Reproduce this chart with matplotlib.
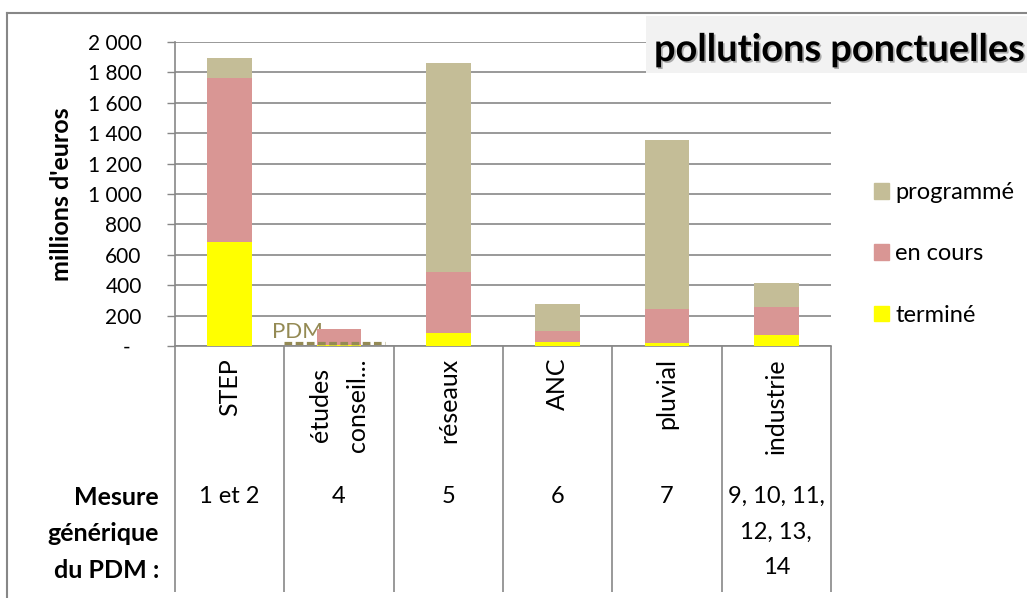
import matplotlib.pyplot as plt
import matplotlib.patheffects as pe
from matplotlib.patches import Rectangle, Patch
from matplotlib.ticker import FuncFormatter

plt.rcParams['font.family'] = ['Lato', 'DejaVu Sans']

categories = ['STEP', 'études\nconseil...', 'réseaux', 'ANC', 'pluvial', 'industrie']
mesures = ['1 et 2', '4', '5', '6', '7', '9, 10, 11,\n12, 13,\n14']
termine = [684, 8, 86, 26, 20, 72]
en_cours = [1079, 104, 401, 73, 223, 185]
programme = [132, 0, 1375, 177, 1112, 157]
pdm_value = 20

W, H = 1027, 598
col_programme = '#C4BD97'
col_en_cours = '#D99694'
col_termine = '#FFFF00'
grey = '#878787'


def fx(px):
    return px / W


def fy(py):
    return 1 - py / H


fig = plt.figure(figsize=(W / 100, H / 100), dpi=100)
ax = fig.add_axes([fx(175), fy(346), fx(831 - 175), (346 - 42) / H])

x = range(len(categories))
bw = 0.41
ax.bar(x, termine, bw, color=col_termine, label='terminé', zorder=3)
ax.bar(x, en_cours, bw, bottom=termine, color=col_en_cours, label='en cours', zorder=3)
bottom2 = [a + b for a, b in zip(termine, en_cours)]
ax.bar(x, programme, bw, bottom=bottom2, color=col_programme, label='programmé', zorder=3)

# PDM reference line over "études conseil"
ax.plot([0.5, 1.42], [pdm_value, pdm_value], color='#948A54', lw=2.3,
        ls=(0, (2.4, 1.1)), zorder=4,
        path_effects=[pe.SimpleLineShadow(offset=(0, -2.5), shadow_color='#999999', alpha=0.35),
                      pe.Normal()])
ax.text(0.62, pdm_value + 35, 'PDM', color='#948A54', fontsize=16, ha='center',
        va='baseline', zorder=2)

ax.set_xlim(-0.5, len(categories) - 0.5)
ax.set_ylim(0, 2000)
ax.set_yticks(range(0, 2001, 200))
ax.yaxis.set_major_formatter(FuncFormatter(
    lambda v, p: '-  ' if v == 0 else '{:,.0f}'.format(v).replace(',', ' ')))
ax.set_xticks([])
ax.tick_params(axis='y', length=6, width=1, color=grey, pad=18, labelsize=15)
ax.grid(axis='y', color=grey, lw=1.2, zorder=0)
for s in ['top', 'right']:
    ax.spines[s].set_visible(False)
for s in ['left', 'bottom']:
    ax.spines[s].set_color(grey)
    ax.spines[s].set_linewidth(1.2)

ax.set_ylabel("millions d'euros", fontsize=18, fontweight='bold')
ax.yaxis.set_label_coords((73 - 175) / (831 - 175), 0.5)

# category table below the axis
trans = ax.get_xaxis_transform()
ax.vlines([i - 0.5 for i in range(len(categories) + 1)], -(592 - 346) / 304, 0,
          transform=trans, color=grey, lw=1.2, clip_on=False)
for i, (cat, mes) in enumerate(zip(categories, mesures)):
    ax.text(i, -(358 - 346) / 304, cat, rotation=90, ha='center', va='top',
            multialignment='center', fontsize=18, linespacing=1.75,
            transform=trans, clip_on=False)
    ax.text(i, -(486 - 346) / 304, mes, ha='center', va='top',
            multialignment='center', fontsize=17, linespacing=1.85,
            transform=trans, clip_on=False)
fig.text(fx(159), fy(486), 'Mesure\ngénérique\ndu PDM :', ha='right', va='top',
         multialignment='right', fontsize=18, fontweight='bold', linespacing=1.7)

# legend
handles = [Patch(color=col_programme), Patch(color=col_en_cours), Patch(color=col_termine)]
fig.legend(handles, ['programmé', 'en cours', 'terminé'], loc='center left',
           bbox_to_anchor=(fx(874), fy(254)), frameon=False, fontsize=17,
           borderpad=0, borderaxespad=0, handlelength=0.64, handleheight=0.64,
           handletextpad=0.25, labelspacing=1.7)

# outer frame
fig.add_artist(plt.Line2D([fx(7), fx(7)], [fy(13), 0], color=grey, lw=1.5))
fig.add_artist(plt.Line2D([fx(7), 1], [fy(13), fy(13)], color=grey, lw=1.5))

# title box
fig.add_artist(Rectangle((fx(646), fy(73)), fx(W - 646), (73 - 16) / H,
                         transform=fig.transFigure, facecolor='#F2F2F2',
                         edgecolor='none', zorder=5))
fig.text(fx(654), fy(61), 'pollutions ponctuelles', fontsize=27.3, fontweight='bold',
         va='baseline', ha='left', zorder=6,
         path_effects=[pe.SimplePatchShadow(offset=(1.2, -1.2), alpha=0.3),
                       pe.Normal()])

fig.savefig('out.png', dpi=100)
